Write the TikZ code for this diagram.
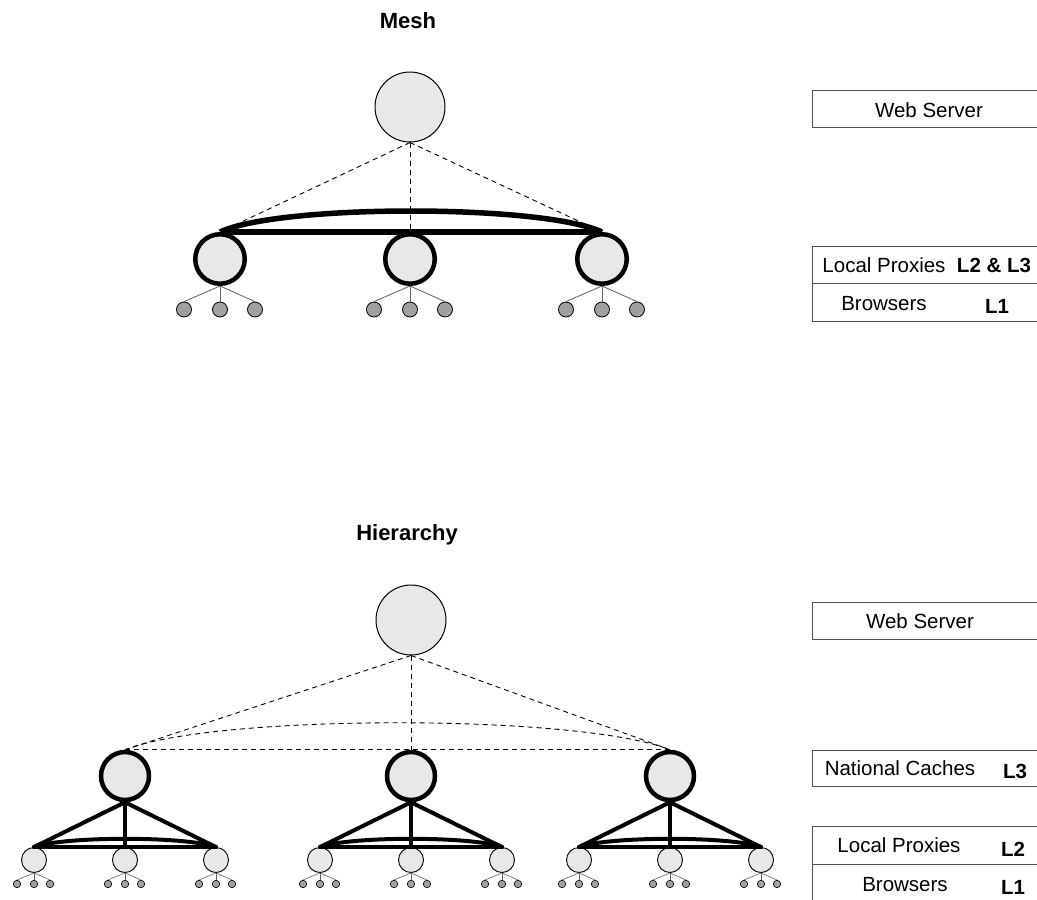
\documentclass[tikz,border=0pt]{standalone}
\usepackage{fontspec}
\setmainfont{Liberation Sans}
\definecolor{nodefill}{HTML}{E8E8E8}
\definecolor{leaffill}{HTML}{A0A0A0}
\definecolor{boxline}{HTML}{505050}
\definecolor{twigline}{HTML}{606060}

\begin{document}
\begin{tikzpicture}[x=1pt,y=-1pt,
  server/.style={circle,draw=black,line width=1,fill=nodefill,minimum size=70,inner sep=0},
  hub/.style={circle,draw=black,line width=4.5,fill=nodefill,minimum size=49.5,inner sep=0},
  smallhub/.style={circle,draw=black,line width=0.9,fill=nodefill,minimum size=25,inner sep=0},
  leaf/.style={circle,draw=black,line width=0.8,fill=leaffill,minimum size=15,inner sep=0},
  tinyleaf/.style={circle,draw=black,line width=0.6,fill=leaffill,minimum size=7.5,inner sep=0},
  link/.style={dash pattern=on 5pt off 4pt,line width=0.9},
  heavylink/.style={line width=5.5},
  midlink/.style={line width=4,line cap=round},
  twig/.style={draw=twigline,line width=0.8},
  legbox/.style={rectangle,draw=boxline,line width=1.4,fill=white,minimum width=260,anchor=north west,inner sep=0},
  lab/.style={font=\fontsize{20.5}{24}\selectfont,inner sep=0},
  lvl/.style={font=\fontsize{20.5}{24}\selectfont\bfseries,inner sep=0},
  heading/.style={font=\fontsize{22}{26}\selectfont\bfseries,inner sep=0}]

\useasboundingbox (0,0) rectangle (1037,900);
\clip (0,0) rectangle (1037,900);

% ---------------- Mesh ----------------
\node[heading] (t1) at (408,21) {Mesh};
\node[server] (ws1) at (410,107) {};
\foreach \i/\x in {1/220,2/410,3/602}{
  \node[hub] (lp\i) at (\x,259) {};
}
\foreach \i in {1,2,3}{
  \draw[link] (ws1.south) -- (lp\i.north);
}
\draw[heavylink] (lp1.north) -- (lp3.north);
\draw[heavylink] (lp1.north) .. controls +(60,-28) and +(-60,-28) .. (lp3.north);
\foreach \i/\x in {1/220,2/410,3/602}{
  \foreach \j/\d in {a/-36,b/0,c/35}{
    \node[leaf] (br\i\j) at (\x+\d,309.5) {};
    \draw[twig] (lp\i.south) -- (br\i\j.north);
  }
}

% Mesh legend
\node[legbox,minimum height=37] (mws) at (812,90) {};
\node[legbox,minimum height=37] (mlp) at (812,246) {};
\node[legbox,minimum height=38] (mbr) at (812,283) {};
\node[lab] (mwst) at (929,110) {Web Server};
\node[lab] (mlpt) at (884,265) {Local Proxies};
\node[lvl] (mlpl) at (994,265) {L2 \& L3};
\node[lab] (mbrt) at (884,304) {Browsers};
\node[lvl] (mbrl) at (997,306) {L1};

% ---------------- Hierarchy ----------------
\node[heading] (t2) at (407,535) {Hierarchy};
\node[server] (ws2) at (411,620) {};
\foreach \i/\x in {1/125,2/411,3/670}{
  \node[hub,minimum size=48] (nc\i) at (\x,776) {};
}
\foreach \i in {1,2,3}{
  \draw[link] (ws2.south) -- (nc\i.north);
}
\draw[link] (nc1.north) -- (nc3.north);
\draw[link] (nc1.north) .. controls +(90,-36) and +(-90,-36) .. (nc3.north);

\foreach \i/\x in {1/125,2/411,3/670}{
  \foreach \j/\d in {a/-91,b/0,c/91}{
    \node[smallhub] (hp\i\j) at (\x+\d,860) {};
    \foreach \k/\e in {1/-17,2/0,3/16}{
      \node[tinyleaf] (hb\i\j\k) at (\x+\d+\e,884) {};
      \draw[twig,line width=0.6] (hp\i\j.south) -- (hb\i\j\k.north);
    }
  }
  \foreach \j in {a,b,c}{
    \draw[midlink] (nc\i.south) -- (hp\i\j.north);
  }
  \draw[midlink] (hp\i a.north) -- (hp\i c.north);
  \draw[midlink] (hp\i a.north) .. controls +(30,-11) and +(-30,-11) .. (hp\i c.north);
}

% Hierarchy legend
\node[legbox,minimum height=37] (hws) at (812,602) {};
\node[legbox,minimum height=36] (hnc) at (812,750) {};
\node[legbox,minimum height=38] (hlp) at (812,826) {};
\node[legbox,minimum height=40] (hbr) at (812,864) {};
\node[lab] (hwst) at (920,621) {Web Server};
\node[lab] (hnct) at (900,768) {National Caches};
\node[lvl] (hncl) at (1015,771) {L3};
\node[lab] (hlpt) at (899,845) {Local Proxies};
\node[lvl] (hlpl) at (1013,849) {L2};
\node[lab] (hbrt) at (905,885) {Browsers};
\node[lvl] (hbrl) at (1013,887) {L1};
\end{tikzpicture}
\end{document}
